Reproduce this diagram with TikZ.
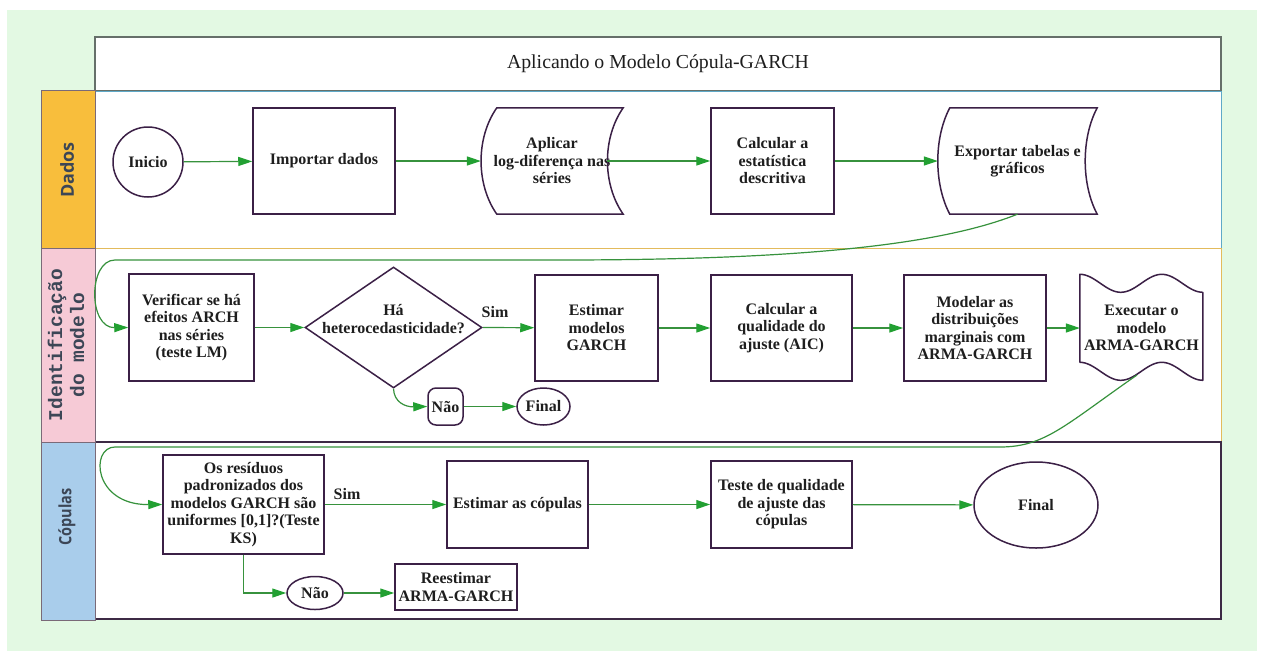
\documentclass[tikz,border=0pt]{standalone}
\usepackage{fontspec}
\setmainfont{Liberation Serif}
\newfontfamily\lanesans{Open Sans}
\newfontfamily\lanecond{Open Sans}[FakeStretch=0.85]
\newfontfamily\lanemono{Liberation Mono}
\usetikzlibrary{shapes.geometric,arrows.meta,calc}
\definecolor{bgc}{HTML}{E3F9E3}
\definecolor{boxc}{HTML}{3B2046}
\definecolor{txt}{HTML}{1E1E1E}
\definecolor{linec}{HTML}{37923D}
\definecolor{headc}{HTML}{22A032}
\definecolor{labc}{HTML}{3C4656}
\definecolor{orangec}{HTML}{F8BE3C}
\definecolor{pinkc}{HTML}{F6CAD6}
\definecolor{bluec}{HTML}{A9CDEB}
\definecolor{labborder}{HTML}{7A6A78}
\definecolor{titleborder}{HTML}{66706A}
\definecolor{lanea}{HTML}{5FA9C8}
\definecolor{laneb}{HTML}{E3BB5C}
\definecolor{lanec}{HTML}{3D2A45}
\newcommand{\boxfnt}{\fontsize{16pt}{17.5pt}\selectfont\bfseries}
\tikzset{
  boxline/.style={draw=boxc, line width=1.5pt},
  box/.style={boxline, fill=white, align=center, font=\boxfnt, text=txt, inner sep=1pt},
  plain/.style={align=center, font=\boxfnt, text=txt, inner sep=1pt},
  arr/.style={draw=linec, line width=1.2pt, -{Triangle[length=14pt,width=9pt,color=headc]}},
  lanelab/.style={rotate=90, text=labc, align=center, inner sep=0pt},
}
\begin{document}
\begin{tikzpicture}[x=1pt,y=-1pt]
\useasboundingbox (0,0) rectangle (1261,651);
\fill[white] (0,0) rectangle (1261,651);
\fill[bgc] (7,10) rectangle (1257,651);
% title
\draw[titleborder, line width=1.5pt, fill=white] (95,37) rectangle (1221,91);
\node[font=\fontsize{19.8pt}{22pt}\selectfont, text=txt] (title) at (658,64) {Aplicando o Modelo Cópula-GARCH};
% lanes
\draw[lanea, line width=1pt, fill=white] (95,91) rectangle (1221,248);
\draw[laneb, line width=1pt, fill=white] (95,248) rectangle (1221,442);
\draw[lanec, line width=1.5pt, fill=white] (95,442) rectangle (1221,619);
\draw[labborder, line width=0.8pt, fill=orangec] (41,90) rectangle (95,248);
\draw[labborder, line width=0.8pt, fill=pinkc] (41,248) rectangle (95,442);
\draw[labborder, line width=0.8pt, fill=bluec] (41,442) rectangle (95,620);
\node[lanelab, font=\lanesans\bfseries\fontsize{18pt}{20pt}\selectfont] (ldados) at (67,170) {Dados};
\node[lanelab, font=\lanemono\bfseries\fontsize{19.5pt}{22pt}\selectfont] (lident) at (66,345) {Identificação\\do modelo};
\node[lanelab, font=\lanecond\bfseries\fontsize{17pt}{20pt}\selectfont] (lcop) at (67,517) {Cópulas};

% row 1
\node[box, circle, minimum size=70pt, inner sep=0pt] (ini) at (148,162) {Inicio};
\node[box, minimum width=142pt, minimum height=106pt] (imp) at (324,161) {Importar dados};
\node[plain, minimum width=142pt, minimum height=106pt] (apl) at (552,161) {Aplicar\\log-diferença nas\\séries};
\draw[boxline] ($(apl.north west)+(16,0)$) -- (apl.north east)
  .. controls ($(apl.north east)+(-21,30)$) and ($(apl.south east)+(-21,-30)$) .. (apl.south east)
  -- ($(apl.south west)+(16,0)$)
  .. controls ($(apl.south west)+(-5,-30)$) and ($(apl.north west)+(-5,30)$) .. ($(apl.north west)+(16,0)$) -- cycle;
\node[box, minimum width=123pt, minimum height=106pt] (cal) at (772.5,161) {Calcular a\\estatística\\descritiva};
\node[plain, minimum width=159pt, minimum height=106pt] (exp) at (1017.5,161) {Exportar tabelas e\\gráficos};
\draw[boxline] ($(exp.north west)+(12,0)$) -- (exp.north east)
  .. controls ($(exp.north east)+(-16,30)$) and ($(exp.south east)+(-16,-30)$) .. (exp.south east)
  -- ($(exp.south west)+(12,0)$)
  .. controls ($(exp.south west)+(-4,-30)$) and ($(exp.north west)+(-4,30)$) .. ($(exp.north west)+(12,0)$) -- cycle;

% row 2
\node[box, minimum width=125pt, minimum height=107pt] (ver) at (191.5,327.5) {Verificar se há\\efeitos ARCH\\nas séries\\(teste LM)};
\node[boxline, fill=white, diamond, minimum width=177pt, minimum height=121pt, inner sep=0pt] (dia) at (393.5,327.5) {};
\node[plain] (diatext) at (393.5,319) {Há\\heterocedasticidade?};
\node[box, minimum width=123pt, minimum height=106pt] (est) at (596.5,328) {Estimar\\modelos\\GARCH};
\node[box, minimum width=141pt, minimum height=106pt] (qual) at (781.5,328) {Calcular a\\qualidade do\\ajuste (AIC)};
\node[box, minimum width=142pt, minimum height=106pt] (mod) at (975,328) {Modelar as\\distribuições\\marginais com\\ARMA-GARCH};
\node[plain, minimum width=123pt, minimum height=107pt] (exe) at (1141.5,328) {Executar o\\modelo\\ARMA-GARCH};
\begin{scope}[shift={(exe.north west)}]
\draw[boxline, line join=round] plot[domain=0:1, samples=50] ({123*\x},{9*(1-cos(540*\x))})
  -- plot[domain=1:0, samples=50] ({123*\x},{88+9*(1-cos(540*\x))}) -- cycle;
\end{scope}
\node[box, rounded corners=8pt, minimum width=35pt, minimum height=37pt, inner sep=0pt] (nao) at (445.5,406.5) {Não};
\node[box, ellipse, minimum width=53pt, minimum height=37pt, inner sep=0pt] (fin1) at (543.5,406.5) {Final};
\node[plain] (sim1) at (495,312) {Sim};

% row 3
\node[box, minimum width=161pt, minimum height=99pt] (res) at (243.5,504.5) {Os resíduos\\padronizados dos\\modelos GARCH são\\uniformes [0,1]?(Teste\\KS)};
\node[box, minimum width=141pt, minimum height=87pt] (estc) at (517.5,504.5) {Estimar as cópulas};
\node[box, minimum width=141pt, minimum height=87pt] (tes) at (781.5,504.5) {Teste de qualidade\\de ajuste das\\cópulas};
\node[box, ellipse, minimum width=124pt, minimum height=86pt, inner sep=0pt] (fin2) at (1036,505) {Final};
\node[box, ellipse, minimum width=56pt, minimum height=33pt, inner sep=0pt] (nao2) at (315,593) {Não};
\node[box, minimum width=122pt, minimum height=46pt] (ree) at (456,587) {Reestimar\\ARMA-GARCH};
\node[plain] (sim2) at (347,494) {Sim};

% connectors row 1
\draw[arr] (ini) -- (imp);
\draw[arr] (imp) -- (apl.west);
\draw[arr] ($(apl.east)+(-16,0)$) -- (cal);
\draw[arr] (cal) -- (exp.west);
% connector to row 2
\draw[arr] (exp.south) .. controls (940,245) and (800,260) .. (560,260) -- (115,260)
  .. controls (88,260) and (88,328) .. (ver.west);
% row 2
\draw[arr] (ver) -- (dia.west);
\draw[arr] (dia.east) -- (est);
\draw[arr] (est) -- (qual);
\draw[arr] (qual) -- (mod);
\draw[arr] (mod) -- (exe.west);
\draw[arr] (dia.south) .. controls (394,402) and (405,407) .. (nao.west);
\draw[arr] (nao) -- (fin1);
% connector to row 3
\coordinate (exeout) at (1137,375);
\draw[arr] (exeout) .. controls (1065,425) and (1045,447) .. (1000,447) -- (115,447)
  .. controls (90,447) and (93,505) .. (res.west);
% row 3
\draw[arr] (res.east) -- (estc.west);
\draw[arr] (estc) -- (tes);
\draw[arr] (tes) -- (fin2);
\draw[arr] (res.south) |- (nao2.west);
\draw[arr] (nao2.east) -- (nao2.east -| ree.west);
\end{tikzpicture}
\end{document}
